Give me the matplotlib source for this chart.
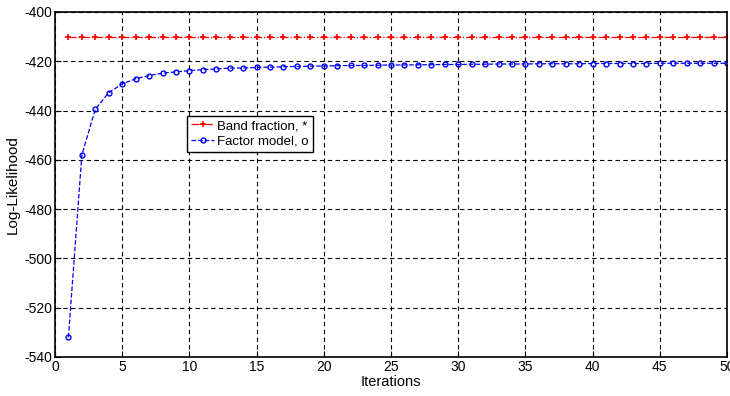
import matplotlib
matplotlib.use("Agg")
import matplotlib.pyplot as plt
import numpy as np

plt.rcParams["font.family"] = ["Liberation Sans", "DejaVu Sans"]
plt.rcParams["axes.unicode_minus"] = False

iterations = np.arange(1, 51)
band_fraction = [-410.0] * 50
factor_model = [
    -532.0, -458.0, -439.5, -432.7, -429.2, -427.1, -425.8, -424.8, -424.3, -423.8,
    -423.4, -423.1, -422.8, -422.7, -422.5, -422.4, -422.2, -422.1, -422.0, -421.9,
    -421.8, -421.7, -421.7, -421.6, -421.5, -421.5, -421.4, -421.4, -421.3, -421.3,
    -421.2, -421.2, -421.1, -421.1, -421.1, -421.0, -421.0, -421.0, -421.0, -420.9,
    -420.9, -420.9, -420.9, -420.9, -420.8, -420.8, -420.8, -420.8, -420.8, -420.8,
]

fig = plt.figure(figsize=(7.3, 3.96), dpi=100)
ax = fig.add_axes([0.0753, 0.0985, 0.9207, 0.8712])

ax.plot(iterations, band_fraction, color="red", linestyle="-.", linewidth=0.9,
        marker="+", markersize=4, markeredgewidth=1.2, label="Band fraction, *")
ax.plot(iterations, factor_model, color="blue", linestyle="--", linewidth=0.9,
        marker="o", markersize=3.5, markerfacecolor="none", markeredgewidth=1.0,
        label="Factor model, o")

ax.set_xlim(0, 50)
ax.set_ylim(-540, -400)
ax.set_xticks(np.arange(0, 51, 5))
ax.set_yticks(np.arange(-540, -399, 20))
ax.grid(True, color="black", linestyle=(0, (4, 3)), linewidth=0.8)
ax.tick_params(direction="in", labelsize=10, length=4, width=0.8, pad=2)
for s in ax.spines.values():
    s.set_linewidth(1.2)

ax.set_xlabel("Iterations", fontsize=10.5, labelpad=1)
ax.set_ylabel("Log-Likelihood", fontsize=11, labelpad=3)

leg = ax.legend(loc="upper left", bbox_to_anchor=(0.196, 0.699), borderaxespad=0,
                fontsize=9.5, fancybox=False, framealpha=1, edgecolor="black",
                handlelength=1.8, handletextpad=0.2, borderpad=0.3, labelspacing=0.25)
leg.get_frame().set_linewidth(1.0)

fig.savefig("out.png", dpi=100)
